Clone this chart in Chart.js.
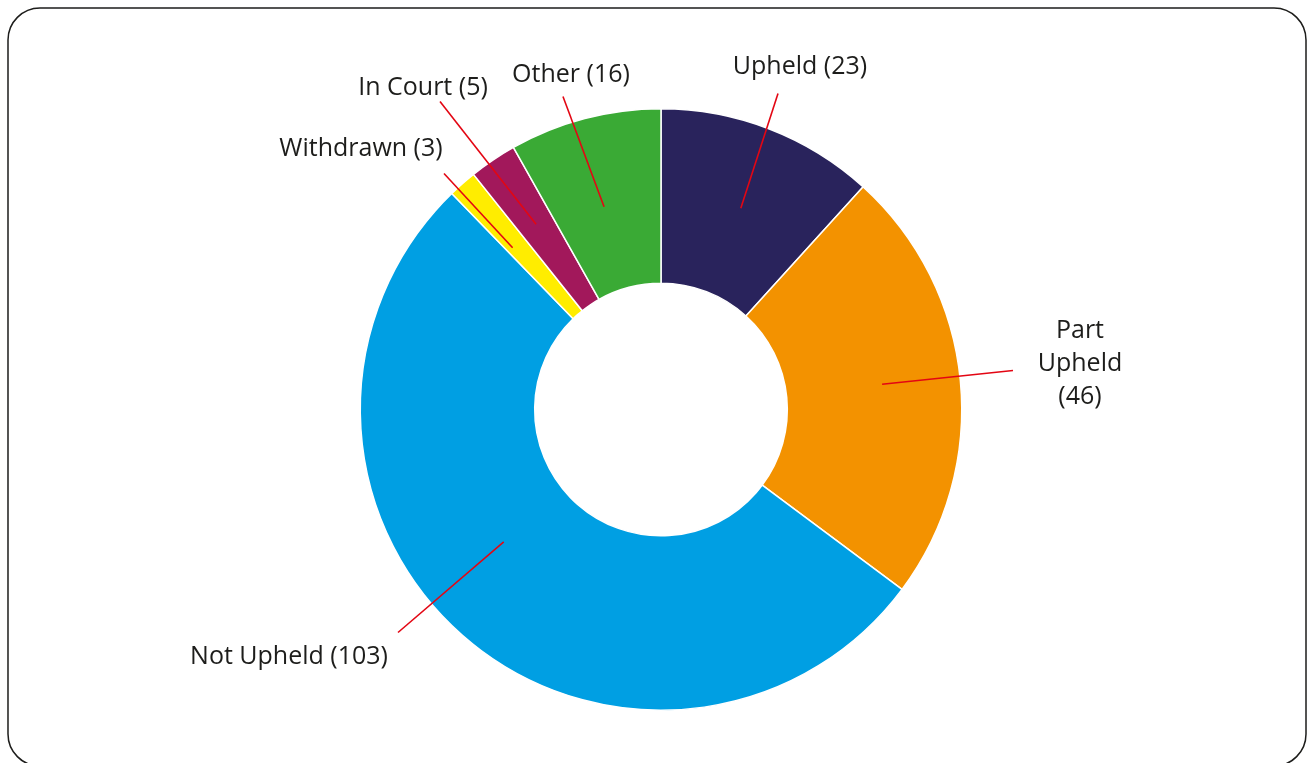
<!DOCTYPE html>
<html>
<head>
<meta charset="utf-8">
<script src="https://cdn.jsdelivr.net/npm/chart.js@4"></script>
<style>
  html, body { margin: 0; padding: 0; background: #fff; }
  #wrap { width: 1310px; height: 763px; position: relative; }
</style>
</head>
<body>
<div id="wrap"><canvas id="myChart" width="1310" height="763"></canvas></div>
<script>
// complaint outcomes
const outcomeLabels = ['Upheld', 'Part Upheld', 'Not Upheld', 'Withdrawn', 'In Court', 'Other'];
const outcomeCounts = [23, 46, 103, 3, 5, 16];
const outcomeColors = ['#29235c', '#f39200', '#009fe3', '#ffed00', '#a2185b', '#3aaa35'];

// callout text lines for each slice
const calloutText = [
    ['Upheld (23)'],
    ['Part', 'Upheld', '(46)'],
    ['Not Upheld (103)'],
    ['Withdrawn (3)'],
    ['In Court (5)'],
    ['Other (16)']
];

// leader line / text placement, offsets from the doughnut centre
// nudge = degrees added to slice mid angle for the line start
const calloutLayout = [
    { nudge: 0.5,  dr: 3,  end: [117, -316], text: [139, -336] },
    { nudge: -1,   dr: 9,  end: [352, -39],  text: [419, -72] },
    { nudge: 8.6,  dr: -8, end: [-263, 223], text: [-372, 254] },
    { nudge: -1.2, dr: 6,  end: [-217, -236], text: [-300, -254] },
    { nudge: 0,    dr: 10, end: [-221, -308], text: [-238, -315] },
    { nudge: -1,   dr: -3, end: [-98, -313], text: [-90, -328] }
];

// rounded frame round the whole chart
const framePlugin = {
    id: 'frame',
    beforeDraw(chart) {
        const ctx = chart.ctx;
        const x = 8, y = 8, w = 1298, h = 758, r = 32;
        ctx.save();
        ctx.beginPath();
        ctx.moveTo(x + r, y);
        ctx.lineTo(x + w - r, y);
        ctx.arcTo(x + w, y, x + w, y + r, r);
        ctx.lineTo(x + w, y + h - r);
        ctx.arcTo(x + w, y + h, x + w - r, y + h, r);
        ctx.lineTo(x + r, y + h);
        ctx.arcTo(x, y + h, x, y + h - r, r);
        ctx.lineTo(x, y + r);
        ctx.arcTo(x, y, x + r, y, r);
        ctx.closePath();
        ctx.lineWidth = 1.5;
        ctx.strokeStyle = '#1d1d1b';
        ctx.stroke();
        ctx.restore();
    }
};

// red leader lines from each slice out to its label
const calloutPlugin = {
    id: 'callouts',
    afterDraw(chart) {
        const ctx = chart.ctx;
        const arcs = chart.getDatasetMeta(0).data;
        ctx.save();
        arcs.forEach(function (arc, i) {
            const p = arc.getProps(['x', 'y', 'startAngle', 'endAngle', 'innerRadius', 'outerRadius'], true);
            const lay = calloutLayout[i];
            const mid = (p.startAngle + p.endAngle) / 2 + lay.nudge * Math.PI / 180;
            const rad = (p.innerRadius + p.outerRadius) / 2 + lay.dr;
            const sx = p.x + Math.cos(mid) * rad;
            const sy = p.y + Math.sin(mid) * rad;

            ctx.beginPath();
            ctx.moveTo(sx, sy);
            ctx.lineTo(p.x + lay.end[0], p.y + lay.end[1]);
            ctx.lineWidth = 1.6;
            ctx.strokeStyle = '#e30613';
            ctx.stroke();

            ctx.fillStyle = '#1d1d1b';
            ctx.font = '25px "Open Sans"';
            ctx.textAlign = 'center';
            ctx.textBaseline = 'alphabetic';
            calloutText[i].forEach(function (line, j) {
                ctx.fillText(line, p.x + lay.text[0], p.y + lay.text[1] + j * 33);
            });
        });
        ctx.restore();
    }
};

const ctx = document.getElementById('myChart').getContext('2d');
const myChart = new Chart(ctx, {
    type: 'doughnut',
    data: {
        labels: outcomeLabels,
        datasets: [{
            data: outcomeCounts,
            backgroundColor: outcomeColors,
            borderColor: '#ffffff',
            borderWidth: 1.5
        }]
    },
    options: {
        responsive: false,
        animation: false,
        cutout: '42%',
        layout: { padding: { top: 108, bottom: 52, left: 12, right: 0 } },
        plugins: {
            legend: { display: false },
            tooltip: { enabled: false }
        }
    },
    plugins: [framePlugin, calloutPlugin]
});
</script>
</body>
</html>
